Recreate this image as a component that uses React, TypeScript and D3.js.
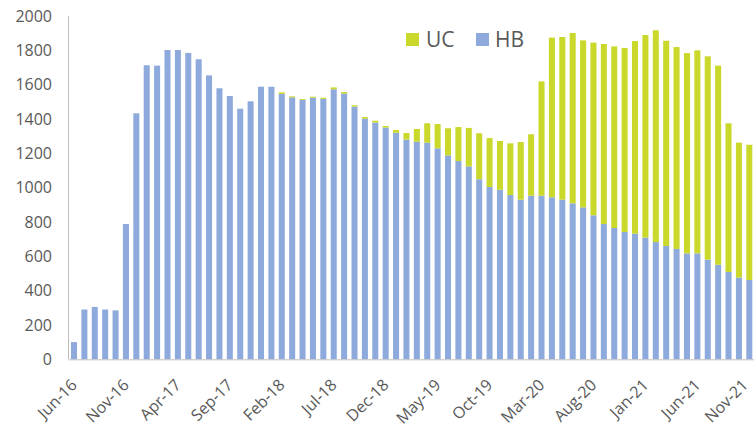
import React from "react";
import * as d3 from "d3";

const months: string[] = (() => {
  const names = ["Jan","Feb","Mar","Apr","May","Jun","Jul","Aug","Sep","Oct","Nov","Dec"];
  const out: string[] = [];
  let m = 5, y = 16;
  for (let i = 0; i < 66; i++) {
    out.push(`${names[m]}-${y}`);
    m++;
    if (m === 12) { m = 0; y++; }
  }
  return out;
})();

const hbValues = [
  100, 290, 305, 290, 285, 788, 1433, 1713, 1711, 1802,
  1802, 1785, 1748, 1654, 1579, 1534, 1460, 1503, 1588, 1588,
  1546, 1526, 1511, 1524, 1517, 1573, 1548, 1472, 1402, 1379,
  1350, 1320, 1280, 1268, 1262, 1229, 1188, 1155, 1124, 1049,
  1004, 988, 957, 930, 953, 953, 944, 930, 909, 885,
  839, 788, 765, 742, 732, 709, 683, 660, 643, 617,
  617, 581, 551, 509, 476, 462,
];

const totalValues = [
  100, 290, 305, 290, 285, 788, 1433, 1713, 1711, 1802,
  1802, 1785, 1748, 1654, 1579, 1534, 1460, 1503, 1588, 1588,
  1555, 1532, 1516, 1530, 1524, 1584, 1557, 1480, 1412, 1390,
  1359, 1336, 1318, 1342, 1375, 1371, 1346, 1353, 1348, 1317,
  1289, 1272, 1258, 1266, 1311, 1619, 1874, 1878, 1901, 1858,
  1845, 1837, 1823, 1814, 1854, 1889, 1917, 1856, 1819, 1784,
  1800, 1765, 1711, 1375, 1262, 1250,
];

const ucValues = totalValues.map((t, i) => Math.max(0, t - hbValues[i]));

const yTicks = [0, 200, 400, 600, 800, 1000, 1200, 1400, 1600, 1800, 2000];
const xTickLabels = ["Jun-16","Nov-16","Apr-17","Sep-17","Feb-18","Jul-18","Dec-18","May-19","Oct-19","Mar-20","Aug-20","Jan-21","Jun-21","Nov-21"];

const W = 754, H = 427;
const HB_COLOR = "#8EAADC";
const UC_COLOR = "#C9D82A";
const TEXT = "#595959";
const FONT = "'Open Sans', sans-serif";

export default function App() {
  const x = d3.scaleBand<string>().domain(months).range([68.8, 754.5]).paddingInner(0.42).paddingOuter(0.21);
  const y = d3.scaleLinear().domain([0, 2000]).range([359.3, 16]);
  const rows = months.map((m, i) => ({ month: m, HB: hbValues[i], UC: ucValues[i] }));
  const stack = d3.stack<any>().keys(["HB", "UC"])(rows);
  const colors: Record<string, string> = { HB: HB_COLOR, UC: UC_COLOR };
  const bw = x.bandwidth();

  return (
    <svg width={W} height={H} style={{ position: "absolute", left: 0, top: 0, background: "#fff" }} fontFamily={FONT}>
      {stack.map((layer) => (
        <g key={layer.key} fill={colors[layer.key]}>
          {layer.map((d, i) => {
            const h = y(d[0]) - y(d[1]);
            if (h <= 0) return null;
            return <rect key={i} x={x(months[i])!} y={y(d[1])} width={bw} height={h} />;
          })}
        </g>
      ))}
      <line x1={68.5} x2={68.5} y1={y(2000)} y2={y(0)} stroke="#BFBFBF" strokeWidth={1} />
      <line x1={68.5} x2={W} y1={y(0) + 0.5} y2={y(0) + 0.5} stroke="#BFBFBF" strokeWidth={1} />
      {yTicks.map((t) => (
        <text key={t} x={52} y={y(t)} dy="0.35em" textAnchor="end" fontSize={16} fill={TEXT}>{t}</text>
      ))}
      {xTickLabels.map((lab) => {
        const cx = x(lab)! + bw / 2;
        return (
          <text key={lab} transform={`translate(${Math.min(cx + 4, 749)},${386}) rotate(-45)`} textAnchor="end" fontSize={16} fill={TEXT}>{lab}</text>
        );
      })}
      <g>
        <rect x={406} y={33} width={13} height={13} fill={UC_COLOR} />
        <text x={426} y={47} fontSize={21} fill={TEXT}>UC</text>
        <rect x={476} y={33} width={13} height={13} fill={HB_COLOR} />
        <text x={495} y={47} fontSize={21} fill={TEXT}>HB</text>
      </g>
    </svg>
  );
}
